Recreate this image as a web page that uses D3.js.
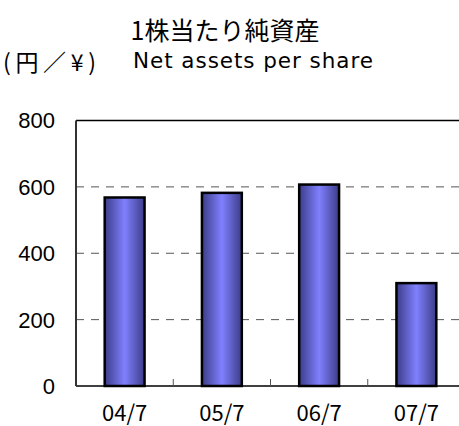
<!DOCTYPE html>
<meta charset="utf-8">
<style>
body { margin: 0; background: white; }
svg { display: block; }
.ylab { font: 22px "Liberation Sans", Arial, sans-serif; fill: #000; }
.xlab { font: 22px "Noto Sans CJK JP", sans-serif; fill: #000; }
</style>
<body>
<script src="https://d3js.org/d3.v7.min.js"></script>
<script>

// data
var categories = ["04/7", "05/7", "06/7", "07/7"];
var values = [568, 582, 607, 310];
var yTicks = [0, 200, 400, 600, 800];
var gridTicks = [200, 400, 600];

var width = 459, height = 426;
var plot = {left: 76, right: 465, top: 120.5, bottom: 386};

var svg = d3.select("body").append("svg")
    .attr("width", width)
    .attr("height", height);

// gradient for the bars (dark edges, light middle)
var grad = svg.append("defs").append("linearGradient")
    .attr("id", "barGrad")
    .attr("x1", "0%").attr("x2", "100%").attr("y1", "0%").attr("y2", "0%");
grad.append("stop").attr("offset", "0%").attr("stop-color", "#3c3c88");
grad.append("stop").attr("offset", "50%").attr("stop-color", "#8080ff");
grad.append("stop").attr("offset", "100%").attr("stop-color", "#3c3c88");

var x = d3.scaleBand()
    .domain(categories)
    .range([plot.left, plot.right])
    .paddingInner(0.59)
    .paddingOuter(0.295);

var xb = d3.scaleBand()
    .domain(categories)
    .range([plot.left, plot.right]);

var y = d3.scaleLinear()
    .domain([0, 800])
    .range([plot.bottom, plot.top]);

// titles
svg.append("text")
    .attr("x", 225).attr("y", 40)
    .attr("text-anchor", "middle")
    .style("font", "25px 'Noto Sans CJK JP', sans-serif")
    .text("1株当たり純資産");

svg.append("text")
    .attr("x", 133).attr("y", 68)
    .attr("textLength", 240)
    .attr("lengthAdjust", "spacing")
    .style("font", "21.5px 'DejaVu Sans', sans-serif")
    .text("Net assets per share");

svg.append("text")
    .attr("x", 3).attr("y", 71)
    .attr("textLength", 93)
    .attr("lengthAdjust", "spacing")
    .style("font", "23px 'Noto Sans CJK JP', sans-serif")
    .text("(円／¥)");

// dashed gridlines
svg.selectAll("line.grid")
    .data(gridTicks)
  .enter().append("line")
    .attr("class", "grid")
    .attr("x1", plot.left).attr("x2", plot.right)
    .attr("y1", function(d) { return y(d); })
    .attr("y2", function(d) { return y(d); })
    .attr("stroke", "#555")
    .attr("stroke-width", 1)
    .attr("stroke-dasharray", "8,7");

// top border
svg.append("line")
    .attr("x1", plot.left).attr("x2", plot.right)
    .attr("y1", y(800)).attr("y2", y(800))
    .attr("stroke", "#000").attr("stroke-width", 1.5);

// bars
svg.selectAll("rect.bar")
    .data(values)
  .enter().append("rect")
    .attr("class", "bar")
    .attr("x", function(d, i) { return x(categories[i]); })
    .attr("width", x.bandwidth())
    .attr("y", function(d) { return y(d); })
    .attr("height", function(d) { return y(0) - y(d); })
    .attr("fill", "url(#barGrad)")
    .attr("stroke", "#000")
    .attr("stroke-width", 2.5);

// x axis line + inner ticks
svg.append("line")
    .attr("x1", plot.left).attr("x2", plot.right)
    .attr("y1", plot.bottom).attr("y2", plot.bottom)
    .attr("stroke", "#000").attr("stroke-width", 1.5);

svg.selectAll("line.xtick")
    .data(categories.slice(1))
  .enter().append("line")
    .attr("class", "xtick")
    .attr("x1", function(d) { return xb(d); })
    .attr("x2", function(d) { return xb(d); })
    .attr("y1", plot.bottom).attr("y2", plot.bottom - 7)
    .attr("stroke", "#555").attr("stroke-width", 1);

// y axis line
svg.append("line")
    .attr("x1", plot.left).attr("x2", plot.left)
    .attr("y1", plot.top).attr("y2", plot.bottom)
    .attr("stroke", "#333").attr("stroke-width", 2);

// y labels
svg.selectAll("text.ylab")
    .data(yTicks)
  .enter().append("text")
    .attr("class", "ylab")
    .attr("x", 55)
    .attr("y", function(d) { return y(d); })
    .attr("dy", "0.36em")
    .attr("text-anchor", "end")
    .text(function(d) { return d; });

// x labels
svg.selectAll("text.xlab")
    .data(categories)
  .enter().append("text")
    .attr("class", "xlab")
    .attr("x", function(d) { return xb(d) + xb.bandwidth() / 2; })
    .attr("y", 421)
    .attr("text-anchor", "middle")
    .text(function(d) { return d; });

</script>
</body>
